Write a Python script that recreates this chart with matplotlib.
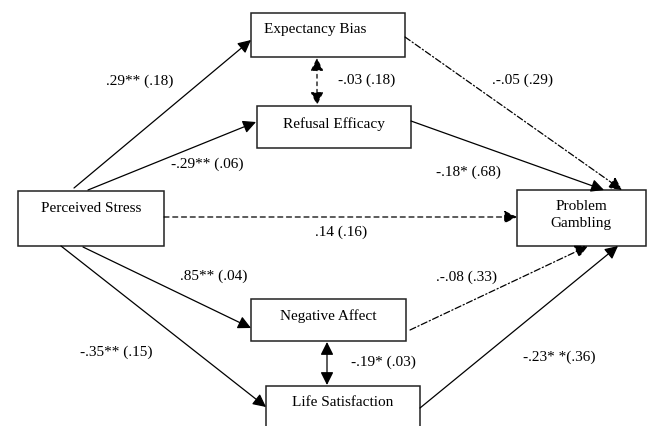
import matplotlib.pyplot as plt
from matplotlib.patches import Rectangle, FancyArrowPatch

plt.rcParams['font.family'] = ['Liberation Serif', 'DejaVu Serif']

# node names
nodes = ['Expectancy Bias', 'Refusal Efficacy', 'Perceived Stress', 'Problem\nGambling',
         'Negative Affect', 'Life Satisfaction']
# path coefficients (SE)
coef_labels = ['.29** (.18)', '-.29** (.06)', '.14 (.16)', '.85** (.04)', '-.35** (.15)',
               '-.03 (.18)', '.-.05 (.29)', '-.18* (.68)', '.-.08 (.33)', '-.19* (.03)',
               '-.23* *(.36)']

# layout in pixel coordinates (x0, y0, x1, y1) and text position
boxes = {
    'Expectancy Bias': ((251, 13, 405, 57), (315, 30)),
    'Refusal Efficacy': ((257, 106, 411, 148), (334, 124)),
    'Perceived Stress': ((18, 191, 164, 246), (91, 208)),
    'Problem\nGambling': ((517, 190, 646, 246), (581, 215)),
    'Negative Affect': ((251, 299, 406, 341), (328, 316)),
    'Life Satisfaction': ((266, 386, 420, 440), (343, 403)),
}

# edges: start, end, linestyle, two-headed
edges = [
    ((74, 188), (251, 40), '-', False),
    ((88, 190), (256, 122), '-', False),
    ((164, 217), (517, 217), (0, (4, 3)), False),
    ((83, 247), (251, 328), '-', False),
    ((61, 246), (266, 407), '-', False),
    ((317, 58), (317, 105), (0, (3, 3)), True),
    ((405, 37), (622, 190), (0, (5, 2, 1, 2)), False),
    ((411, 121), (604, 190), '-', False),
    ((410, 330), (588, 246), (0, (5, 2, 1, 2)), False),
    ((327, 342), (327, 385), '-', True),
    ((420, 408), (618, 246), '-', False),
]

label_pos = [(140, 81), (207, 164), (341, 232), (214, 276), (116, 352),
             (367, 80), (522, 80), (468, 172), (467, 277), (383, 362), (559, 357)]

fig = plt.figure(figsize=(6.5, 4.26), dpi=100)
ax = fig.add_axes([0, 0, 1, 1])
ax.set_xlim(0, 650)
ax.set_ylim(426, 0)
ax.axis('off')

for name in nodes:
    (x0, y0, x1, y1), (tx, ty) = boxes[name]
    ax.add_patch(Rectangle((x0, y0), x1 - x0, y1 - y0, fill=True, facecolor='white',
                           edgecolor='#222222', lw=1.1, zorder=2))
    ax.text(tx, ty, name, ha='center', va='center', fontsize=11, linespacing=1.35, zorder=3)

for (p0, p1, ls, both) in edges:
    style = '<|-|>' if both else '-|>'
    arr = FancyArrowPatch(p0, p1, arrowstyle=style + ',head_length=0.6,head_width=0.3',
                          mutation_scale=13, lw=0.9, color='black', linestyle=ls,
                          shrinkA=0, shrinkB=0, zorder=4)
    ax.add_patch(arr)

for lab, (x, y) in zip(coef_labels, label_pos):
    ax.text(x, y, lab, ha='center', va='center', fontsize=11)

fig.savefig('out.png', dpi=100)
